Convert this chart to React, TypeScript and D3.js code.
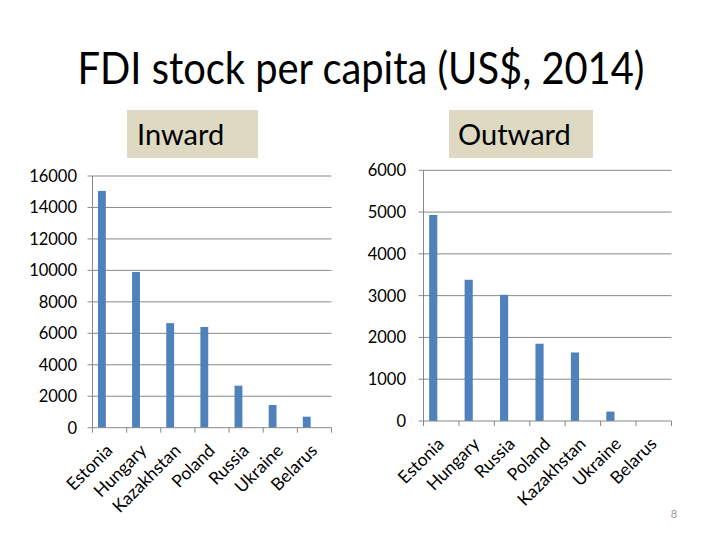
import React from "react";
import * as d3 from "d3";

const inwardCountries = ["Estonia", "Hungary", "Kazakhstan", "Poland", "Russia", "Ukraine", "Belarus"];
const inwardValues = [15050, 9900, 6650, 6400, 2670, 1440, 700];
const inwardTicks = [0, 2000, 4000, 6000, 8000, 10000, 12000, 14000, 16000];

const outwardCountries = ["Estonia", "Hungary", "Russia", "Poland", "Kazakhstan", "Ukraine", "Belarus"];
const outwardValues = [4930, 3380, 3020, 1850, 1640, 225, 0];
const outwardTicks = [0, 1000, 2000, 3000, 4000, 5000, 6000];

const FONT = "Lato, 'Open Sans', sans-serif";
const BAR = "#4f81bd";
const GRID = "#888888";

type PanelProps = {
  cats: string[];
  vals: number[];
  ticks: number[];
  max: number;
  x0: number;
  x1: number;
  y0: number;
  y1: number;
  labelX: number;
};

function Panel({ cats, vals, ticks, max, x0, x1, y0, y1, labelX }: PanelProps) {
  const x = d3.scaleBand<string>().domain(cats).range([x0, x1]).paddingInner(0).paddingOuter(0);
  const y = d3.scaleLinear().domain([0, max]).range([y0, y1]);
  const bw = x.bandwidth();
  return (
    <g>
      {ticks.map((t) => (
        <g key={t}>
          {t > 0 && <line x1={x0} x2={x1} y1={y(t)} y2={y(t)} stroke={GRID} strokeWidth={1} />}
          <line x1={x0 - 5} x2={x0} y1={y(t)} y2={y(t)} stroke={GRID} strokeWidth={1} />
          <text x={labelX} y={y(t)} dy="0.36em" textAnchor="end" fontFamily={FONT} fontSize={16.5} fill="#000">
            {t}
          </text>
        </g>
      ))}
      {cats.map((c, i) => (
        <rect key={c} x={(x(c) as number) + 0.16 * bw} width={0.23 * bw} y={y(vals[i])} height={y0 - y(vals[i])} fill={BAR} />
      ))}
      <line x1={x0} x2={x0} y1={y1} y2={y0} stroke={GRID} strokeWidth={1} />
      <line x1={x0} x2={x1} y1={y0} y2={y0} stroke={GRID} strokeWidth={1} />
      {d3.range(cats.length + 1).map((i) => (
        <line key={i} x1={x0 + i * bw} x2={x0 + i * bw} y1={y0} y2={y0 + 5} stroke={GRID} strokeWidth={1} />
      ))}
      {cats.map((c) => {
        const cx = (x(c) as number) + bw / 2 + 4;
        const cy = y0 + 24;
        return (
          <text
            key={c}
            x={cx}
            y={cy}
            textAnchor="end"
            fontFamily={FONT}
            fontSize={17.5}
            fill="#000"
            transform={`rotate(-45 ${cx} ${cy})`}
          >
            {c}
          </text>
        );
      })}
    </g>
  );
}

export default function App() {
  return (
    <svg width={720} height={540} style={{ position: "absolute", left: 0, top: 0, display: "block", background: "#fff" }}>
      <rect width={720} height={540} fill="#fff" />
      <text x={361} y={84} textAnchor="middle" fontFamily={FONT} fontSize={45} fill="#000" textLength={567} lengthAdjust="spacingAndGlyphs">
        FDI stock per capita (US$, 2014)
      </text>
      <rect x={127} y={110} width={131} height={48} fill="#ddd9c3" />
      <text x={137} y={145} fontFamily={FONT} fontSize={29} fill="#000">Inward</text>
      <rect x={449} y={110} width={144} height={48} fill="#ddd9c3" />
      <text x={458} y={145} fontFamily={FONT} fontSize={29} fill="#000">Outward</text>
      <Panel cats={inwardCountries} vals={inwardValues} ticks={inwardTicks} max={16000} x0={92.5} x1={331.5} y0={427.7} y1={176} labelX={77} />
      <Panel cats={outwardCountries} vals={outwardValues} ticks={outwardTicks} max={6000} x0={423.5} x1={671.5} y0={421} y1={170.3} labelX={406} />
      <text x={674} y={518} textAnchor="middle" fontFamily={FONT} fontSize={11} fill="#999">8</text>
    </svg>
  );
}
